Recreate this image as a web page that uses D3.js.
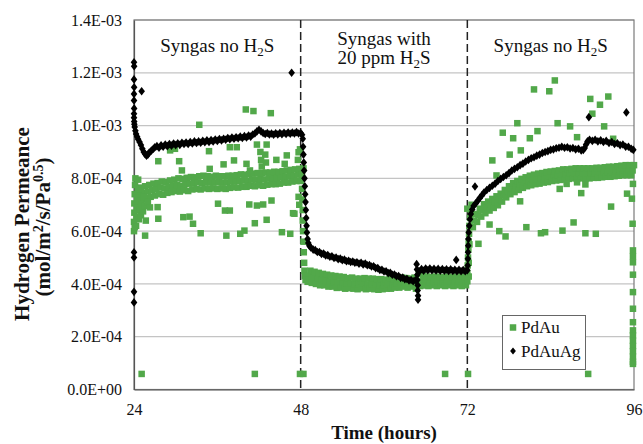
<!DOCTYPE html>
<html>
<head>
<meta charset="utf-8">
<script src="https://cdn.jsdelivr.net/npm/d3@7"></script>
<style>
  body { margin: 0; background: #fff; }
  svg { display: block; }
  text { font-family: "Liberation Serif", "Times New Roman", serif; fill: #111; }
</style>
</head>
<body>
<div id="chart"></div>
<script>
/*
 * DATA  (permeance values in units of 1E-04 mol/m2/s/Pa^0.5, time in hours)
 */

var xTicks = [24, 48, 72, 96];
var yTicks = [0, 2, 4, 6, 8, 10, 12, 14];
var phaseLines = [48, 72];
var phaseLabels = [
  {t: 36, lines: [["Syngas no H", "2", "S"]]},
  {t: 60, lines: [["Syngas with"], ["20 ppm H", "2", "S"]]},
  {t: 84, lines: [["Syngas no H", "2", "S"]]}
];
var seriesNames = ["PdAu", "PdAuAg"];

// PdAuAg: [time, value]
var pdAuAg = [
  [24.0,12.4],[24.02,12.25],[24.0,11.75],[24.02,11.45],[24.0,11.2],[24.0,10.95],[24.02,10.65],
  [24.0,10.45],[24.0,10.3],[24.03,10.15],[24.05,10.05],
  [24.0,5.2],[24.0,5.0],[24.0,3.7],[24.0,3.3],
  [25.1,11.3],[46.7,12.0],[64.9,3.4],[70.4,4.91],[73.1,7.69],[89.5,10.32],[94.9,10.5],
  [24.1,9.95],[24.2,9.8],[24.3,9.68],[24.45,9.58],[24.6,9.48],[24.8,9.38],[25.0,9.26],[25.2,9.12],
  [25.4,9.0],[25.6,8.92],[25.8,8.86],[26.0,8.9],[26.2,8.98],[26.5,9.05],[26.8,9.12],
  [27.0,9.18],[27.3,9.22],[27.6,9.16],[27.9,9.25],[28.2,9.2],[28.5,9.28],[28.8,9.22],[29.1,9.3],
  [29.4,9.24],[29.7,9.32],[30.0,9.26],[30.3,9.33],[30.6,9.27],[30.9,9.35],[31.2,9.3],[31.5,9.36],
  [31.8,9.3],[32.1,9.38],[32.4,9.32],[32.7,9.4],[33.0,9.34],[33.3,9.4],[33.6,9.35],[33.9,9.42],
  [34.2,9.37],[34.5,9.44],[34.8,9.38],[35.1,9.45],[35.4,9.4],[35.7,9.47],[36.0,9.42],[36.3,9.49],
  [36.6,9.44],[36.9,9.5],[37.2,9.46],[37.5,9.53],[37.8,9.48],[38.1,9.55],[38.4,9.5],[38.7,9.56],
  [39.0,9.52],[39.3,9.58],[39.6,9.53],[39.9,9.6],[40.2,9.55],[40.5,9.62],[40.8,9.58],[41.1,9.66],
  [41.4,9.7],[41.7,9.78],[42.0,9.84],[42.3,9.78],[42.6,9.72],[42.9,9.68],[43.2,9.72],[43.5,9.66],
  [43.8,9.7],[44.1,9.65],[44.4,9.71],[44.7,9.66],[45.0,9.72],[45.3,9.67],[45.6,9.73],[45.9,9.68],
  [46.2,9.74],[46.5,9.69],[46.8,9.74],[47.1,9.7],[47.4,9.75],[47.7,9.7],[48.0,9.72],[48.2,9.65],
  [48.3,9.5],[48.35,9.2],[48.4,8.9],[48.45,8.6],[48.5,8.3],[48.55,8.0],[48.6,7.7],[48.65,7.4],
  [48.7,7.1],[48.75,6.8],[48.8,6.5],[48.85,6.2],[48.9,5.95],[49.0,5.7],[49.1,5.55],[49.25,5.45],
  [49.45,5.38],[49.8,5.3],[50.1,5.28],[50.4,5.21],[50.7,5.21],[51.0,5.14],[51.3,5.15],[51.6,5.08],
  [51.9,5.09],[52.2,5.03],[52.5,5.05],[52.8,4.98],[53.1,5.0],[53.4,4.94],[53.7,4.96],[54.0,4.9],
  [54.3,4.92],[54.6,4.86],[54.9,4.88],[55.2,4.83],[55.5,4.85],[55.8,4.8],[56.1,4.82],[56.4,4.77],
  [56.7,4.8],[57.0,4.74],[57.3,4.77],[57.6,4.71],[57.9,4.72],[58.2,4.66],[58.5,4.67],[58.8,4.6],
  [59.1,4.6],[59.4,4.53],[59.7,4.54],[60.0,4.47],[60.3,4.48],[60.6,4.41],[60.9,4.42],[61.2,4.35],
  [61.5,4.36],[61.8,4.29],[62.1,4.3],[62.4,4.23],[62.7,4.24],[63.0,4.18],[63.3,4.19],[63.6,4.13],
  [63.9,4.15],[64.2,4.1],[64.5,4.14],
  [64.7,4.75],[64.75,4.55],[64.8,4.35],[64.8,4.15],[64.85,3.95],[64.85,3.75],[64.9,3.55],
  [65.1,4.48],[65.4,4.56],[65.7,4.5],[66.0,4.58],[66.3,4.52],[66.6,4.58],[66.9,4.52],[67.2,4.57],
  [67.5,4.51],[67.8,4.57],[68.1,4.5],[68.4,4.56],[68.7,4.5],[69.0,4.55],[69.3,4.49],[69.6,4.55],
  [69.9,4.49],[70.2,4.54],[70.5,4.48],[70.8,4.54],[71.1,4.48],[71.4,4.53],[71.7,4.48],[72.0,4.52],
  [72.05,4.7],[72.08,4.95],[72.1,5.2],[72.12,5.45],[72.15,5.7],[72.2,5.95],[72.28,6.2],[72.38,6.45],
  [72.5,6.65],[72.7,6.82],[72.9,6.95],[73.2,7.05],[73.5,7.15],[73.8,7.26],[74.1,7.36],[74.4,7.46],
  [74.8,7.56],[75.2,7.64],[75.6,7.72],[76.0,7.8],[76.4,7.9],[76.8,7.98],[77.2,8.05],[77.6,8.12],
  [78.0,8.2],[78.4,8.3],[78.8,8.36],[79.2,8.42],[79.6,8.5],[80.0,8.56],[80.4,8.64],[80.8,8.7],
  [81.2,8.76],[81.6,8.8],[82.0,8.86],[82.4,8.9],[82.8,8.96],[83.2,9.0],[83.6,9.03],[84.0,9.08],
  [84.4,9.1],[84.8,9.14],[85.2,9.16],[85.6,9.2],[86.0,9.16],[86.4,9.18],[86.8,9.13],[87.2,9.15],
  [87.6,9.1],[88.0,9.12],[88.4,9.06],[88.7,9.08],[88.9,9.15],[89.1,9.28],[89.3,9.4],[89.6,9.46],
  [90.0,9.42],[90.4,9.46],[90.8,9.4],[91.2,9.44],[91.6,9.38],[92.0,9.42],[92.4,9.34],[92.8,9.38],
  [93.2,9.3],[93.6,9.33],[94.0,9.26],[94.4,9.28],[94.8,9.2],[95.2,9.2],[95.6,9.12],[95.9,9.08]
];

// PdAu dense band: [time, low, mid, high]
var pdAuBand = [
  [24.6,7.1,7.4,7.65],[25.2,7.2,7.45,7.7],[25.8,7.25,7.5,7.75],[26.4,7.3,7.55,7.8],[27.0,7.35,7.6,7.82],
  [27.6,7.4,7.65,7.88],[28.2,7.38,7.62,7.86],[28.8,7.45,7.68,7.92],[29.4,7.48,7.72,7.95],[30.0,7.52,7.75,8.0],
  [30.6,7.5,7.72,7.98],[31.2,7.55,7.78,8.02],[31.8,7.52,7.8,8.05],[32.4,7.58,7.82,8.04],[33.0,7.6,7.85,8.08],
  [33.6,7.58,7.82,8.1],[34.2,7.62,7.86,8.08],[34.8,7.6,7.84,8.06],[35.4,7.62,7.85,8.1],[36.0,7.6,7.86,8.08],
  [36.6,7.62,7.84,8.08],[37.2,7.6,7.85,8.1],[37.8,7.64,7.88,8.1],[38.4,7.66,7.9,8.12],[39.0,7.65,7.9,8.15],
  [39.6,7.68,7.92,8.14],[40.2,7.68,7.9,8.16],[40.8,7.72,7.95,8.18],[41.4,7.7,7.95,8.2],[42.0,7.74,7.98,8.2],
  [42.6,7.72,7.96,8.22],[43.2,7.76,8.0,8.22],[43.8,7.78,8.02,8.25],[44.4,7.78,8.02,8.24],[45.0,7.8,8.04,8.27],
  [45.6,7.84,8.06,8.3],[46.2,7.84,8.08,8.32],[46.8,7.88,8.1,8.34],[47.4,7.9,8.14,8.36],[48.0,7.9,8.14,8.38],
  [49.0,4.08,4.3,4.5],[49.6,4.04,4.25,4.46],[50.2,4.0,4.2,4.42],[50.8,3.95,4.16,4.38],[51.4,3.95,4.14,4.35],
  [52.0,3.9,4.1,4.32],[52.6,3.9,4.08,4.3],[53.2,3.85,4.06,4.28],[53.8,3.86,4.04,4.26],[54.4,3.82,4.02,4.22],
  [55.0,3.84,4.02,4.24],[55.6,3.82,4.0,4.2],[56.2,3.8,4.0,4.2],[56.8,3.84,4.02,4.22],[57.4,3.8,3.98,4.2],
  [58.0,3.82,4.0,4.2],[58.6,3.8,3.98,4.18],[59.2,3.78,3.96,4.18],[59.8,3.8,3.96,4.16],[60.4,3.82,4.0,4.2],
  [61.0,3.82,3.98,4.18],[61.6,3.86,4.02,4.2],[62.2,3.86,4.04,4.24],[62.8,3.9,4.06,4.22],[63.4,3.86,4.02,4.2],
  [64.0,3.9,4.06,4.24],[64.6,3.82,4.1,4.38],[65.2,3.92,4.1,4.3],[65.8,3.94,4.1,4.28],[66.4,3.92,4.08,4.26],
  [67.0,3.95,4.08,4.28],[67.6,3.92,4.1,4.26],[68.2,3.95,4.08,4.26],[68.8,3.92,4.06,4.28],[69.4,3.95,4.1,4.26],
  [70.0,3.92,4.06,4.28],[70.6,3.95,4.1,4.28],[71.2,3.92,4.06,4.26],[71.8,3.95,4.1,4.28],
  [72.8,6.15,6.4,6.65],[73.4,6.35,6.6,6.85],[74.0,6.55,6.8,7.02],[74.6,6.68,6.9,7.12],[75.2,6.78,7.0,7.22],
  [75.8,6.88,7.1,7.32],[76.4,6.98,7.2,7.42],[77.0,7.12,7.35,7.56],[77.6,7.28,7.5,7.7],[78.2,7.4,7.62,7.82],
  [78.8,7.48,7.7,7.9],[79.4,7.56,7.78,7.98],[80.0,7.64,7.85,8.04],[80.6,7.7,7.9,8.1],[81.2,7.74,7.95,8.14],
  [81.8,7.78,7.98,8.18],[82.4,7.8,8.0,8.2],[83.0,7.84,8.05,8.24],[83.6,7.86,8.07,8.26],[84.2,7.9,8.1,8.28],
  [84.8,7.92,8.12,8.3],[85.4,7.94,8.15,8.34],[86.0,7.96,8.15,8.34],[86.6,7.98,8.18,8.36],[87.2,8.0,8.2,8.38],
  [87.8,7.98,8.18,8.38],[88.4,8.0,8.2,8.38],[89.0,7.98,8.18,8.38],[89.6,8.0,8.2,8.38],[90.2,8.02,8.2,8.4],
  [90.8,8.02,8.22,8.4],[91.4,8.04,8.22,8.42],[92.0,8.06,8.25,8.44],[92.6,8.06,8.25,8.44],[93.2,8.08,8.28,8.46],
  [93.8,8.1,8.28,8.48],[94.4,8.12,8.3,8.5],[95.0,8.12,8.3,8.5],[95.6,8.12,8.3,8.5]
];

// PdAu scattered points and steep transitions: [time, value]
var pdAuScatter = [
  [24.0,6.0],[24.0,6.35],[24.05,6.7],[24.05,7.05],[24.1,7.4],[24.15,7.75],[24.2,8.0],[24.3,6.2],
  [24.35,6.55],[24.4,6.9],[24.45,7.25],[24.55,7.6],[24.6,7.95],[24.7,6.45],[24.8,6.8],[24.9,7.15],
  [25.0,6.6],[25.1,7.0],[25.3,6.75],[25.4,7.3],[25.5,6.95],[26.0,7.1],[26.3,6.9],
  [24.1,6.15],[25.6,5.83],[25.7,6.4],[27.4,6.91],[27.5,6.47],[27.5,8.65],[29.2,9.06],[29.9,9.12],
  [30.5,8.65],[30.9,8.3],[31.1,6.53],[32.0,6.55],[32.5,6.28],[33.4,10.03],[33.6,5.92],[34.8,9.03],
  [34.9,8.36],[36.1,7.04],[36.9,8.53],[37.1,6.78],[37.3,5.83],[37.8,6.78],[37.8,9.18],[38.4,8.68],
  [38.8,9.18],[39.3,5.9],[39.9,6.02],[40.1,10.61],[40.2,8.55],[40.6,7.01],[40.7,8.3],[41.2,10.55],
  [41.4,6.3],[41.7,6.97],[41.7,9.28],[42.6,7.01],[43.1,9.28],[43.1,6.43],[43.7,10.47],[43.8,7.16],
  [44.5,8.7],[45.3,5.96],[45.7,8.55],[46.0,8.87],[46.5,5.9],[46.9,6.68],[47.1,6.66],[47.7,8.99],
  [42.2,9.0],[42.3,8.7],[42.4,8.45],[42.9,8.9],[43.0,8.6],[47.6,8.7],[47.7,7.3],[47.8,7.0],[47.9,9.1],
  [48.2,7.6],[48.25,7.2],[48.3,6.8],[48.3,6.4],[48.35,6.0],[48.4,5.6],[48.45,5.2],[48.5,4.8],
  [48.55,4.5],[48.6,4.3],[48.7,4.15],
  [25.1,0.59],[41.4,0.59],[47.9,0.59],[48.4,0.59],[68.8,0.59],[72.1,0.59],[89.4,0.59],
  [72.0,4.4],[72.05,4.7],[72.1,5.0],[72.15,5.3],[72.2,5.6],[72.25,5.9],[72.3,6.2],[72.4,6.5],
  [72.5,6.8],[72.6,7.0],[72.2,4.8],[72.3,5.5],
  [72.0,6.85],[73.6,5.52],[75.2,6.25],[75.6,8.68],[76.2,8.11],[76.6,6.0],[77.1,9.73],[77.5,5.8],
  [78.1,8.9],[78.6,9.52],[79.2,10.09],[79.6,7.13],[79.7,9.06],[80.5,6.15],[81.0,9.52],[81.6,11.37],
  [82.1,9.79],[82.6,5.92],[83.2,5.96],[83.8,11.3],[84.6,11.71],[85.0,10.09],[85.3,7.6],[85.7,6.02],
  [86.3,7.79],[86.8,9.97],[87.3,6.33],[87.8,9.56],[87.8,7.85],[88.4,7.44],[89.0,7.77],[89.0,5.92],
  [89.7,11.01],[90.0,10.45],[90.5,5.9],[91.1,10.79],[91.7,9.97],[92.3,11.1],[92.7,6.93],[93.0,9.5],
  [95.0,7.42],[95.7,7.23],[95.8,6.28],
  [95.85,7.79],[95.85,5.27],[95.85,5.05],[95.85,4.82],[95.85,4.35],[95.85,3.69],[95.85,3.06],
  [95.85,2.55],[95.85,2.24],[95.85,2.05],[95.85,1.85],[95.85,1.65],[95.85,1.45],[95.85,1.25],
  [95.85,1.05],[95.85,0.97]
];

/*
 * SET UP
 */

var W = 643, H = 444;
var green = "#52a84a";

var svg = d3.select("#chart").append("svg").attr("width", W).attr("height", H);

var x = d3.scaleLinear().domain([24, 96]).range([134, 634]);
var y = d3.scaleLinear().domain([0, 14]).range([389.5, 20]);

function fmtE(v) {
  if (v === 0) return "0.0E+00";
  return v >= 10 ? (v / 10).toFixed(1) + "E-03" : v.toFixed(1) + "E-04";
}

// gridlines
svg.append("g")
  .selectAll("line").data(yTicks.filter(function (d) { return d > 0; }))
  .enter().append("line")
  .attr("x1", x(24)).attr("x2", x(96))
  .attr("y1", function (d) { return y(d); }).attr("y2", function (d) { return y(d); })
  .attr("stroke", "#c4c4c4").attr("stroke-width", 1.2);

// frame
svg.append("rect")
  .attr("x", x(24)).attr("y", y(14))
  .attr("width", x(96) - x(24)).attr("height", y(0) - y(14))
  .attr("fill", "none").attr("stroke", "#7a7a7a").attr("stroke-width", 1.2);

// axes
var yAxis = d3.axisLeft(y).tickValues(yTicks).tickFormat(fmtE).tickSize(0).tickPadding(12);
var gy = svg.append("g").attr("transform", "translate(" + x(24) + ",0)").call(yAxis);
gy.select(".domain").attr("stroke", "#555").attr("stroke-width", 1.2);
gy.selectAll("text").style("font-size", "16px").style("font-family", "Liberation Serif, serif").attr("fill", "#111");

var xAxis = d3.axisBottom(x).tickValues(xTicks).tickSize(0).tickPadding(14);
var gx = svg.append("g").attr("transform", "translate(0," + y(0) + ")").call(xAxis);
gx.select(".domain").attr("stroke", "#555").attr("stroke-width", 1.2);
gx.selectAll("text").style("font-size", "16px").style("font-family", "Liberation Serif, serif").attr("fill", "#111");

// phase separators
svg.append("g").selectAll("line").data(phaseLines).enter().append("line")
  .attr("x1", function (d) { return x(d); }).attr("x2", function (d) { return x(d); })
  .attr("y1", y(14)).attr("y2", y(0))
  .attr("stroke", "#222").attr("stroke-width", 1.5).attr("stroke-dasharray", "8,4");

// PdAu squares
var pdAuPts = [];
pdAuBand.forEach(function (r) {
  pdAuPts.push([r[0], r[1]], [r[0] + 0.2, r[2]], [r[0] + 0.4, r[3]]);
});
pdAuPts = pdAuPts.concat(pdAuScatter);

var sq = 6.5;
svg.append("g").selectAll("rect").data(pdAuPts).enter().append("rect")
  .attr("x", function (d) { return x(d[0]) - sq / 2; })
  .attr("y", function (d) { return y(d[1]) - sq / 2; })
  .attr("width", sq).attr("height", sq)
  .attr("fill", green);

// PdAuAg diamonds
var diamond = "M0,-4.3L3.3,0L0,4.3L-3.3,0Z";
svg.append("g").selectAll("path").data(pdAuAg).enter().append("path")
  .attr("d", diamond)
  .attr("transform", function (d) { return "translate(" + x(d[0]) + "," + y(d[1]) + ")"; })
  .attr("fill", "#000");

// phase labels
phaseLabels.forEach(function (p) {
  var n = p.lines.length;
  p.lines.forEach(function (ln, i) {
    var t = svg.append("text")
      .attr("x", x(p.t))
      .attr("y", n === 1 ? 52 : 45 + i * 19)
      .attr("text-anchor", "middle")
      .style("font-size", "19px");
    t.append("tspan").text(ln[0]);
    if (ln.length > 1) {
      t.append("tspan").attr("dy", 4).style("font-size", "13px").text(ln[1]);
      t.append("tspan").attr("dy", -4).text(ln[2]);
    }
  });
});

// legend
var lg = svg.append("g");
lg.append("rect").attr("x", 502.5).attr("y", 315.5).attr("width", 83).attr("height", 54)
  .attr("fill", "#fff").attr("stroke", "#666").attr("stroke-width", 1);
lg.append("rect").attr("x", 513 - sq / 2).attr("y", 327.5 - sq / 2).attr("width", sq).attr("height", sq).attr("fill", green);
lg.append("path").attr("d", "M0,-3.6L2.9,0L0,3.6L-2.9,0Z").attr("transform", "translate(513,351)").attr("fill", "#000");
lg.selectAll("text.lab").data(seriesNames).enter().append("text")
  .attr("x", 521).attr("y", function (d, i) { return 333 + i * 23.5; })
  .style("font-size", "17px").text(function (d) { return d; });

// axis titles
svg.append("text").attr("x", x(60)).attr("y", 439).attr("text-anchor", "middle")
  .style("font-size", "19px").style("font-weight", "bold").text("Time (hours)");

var yt1 = svg.append("text").attr("transform", "translate(29,224) rotate(-90)")
  .attr("text-anchor", "middle").style("font-size", "21px").style("font-weight", "bold")
  .text("Hydrogen Permeance");
var yt2 = svg.append("text").attr("transform", "translate(50,227) rotate(-90)")
  .attr("text-anchor", "middle").style("font-size", "21px").style("font-weight", "bold");
yt2.append("tspan").text("(mol/m");
yt2.append("tspan").attr("dy", -7).style("font-size", "14px").text("2");
yt2.append("tspan").attr("dy", 7).text("/s/Pa");
yt2.append("tspan").attr("dy", -7).style("font-size", "14px").text("0.5");
yt2.append("tspan").attr("dy", 7).text(")");
</script>
</body>
</html>
